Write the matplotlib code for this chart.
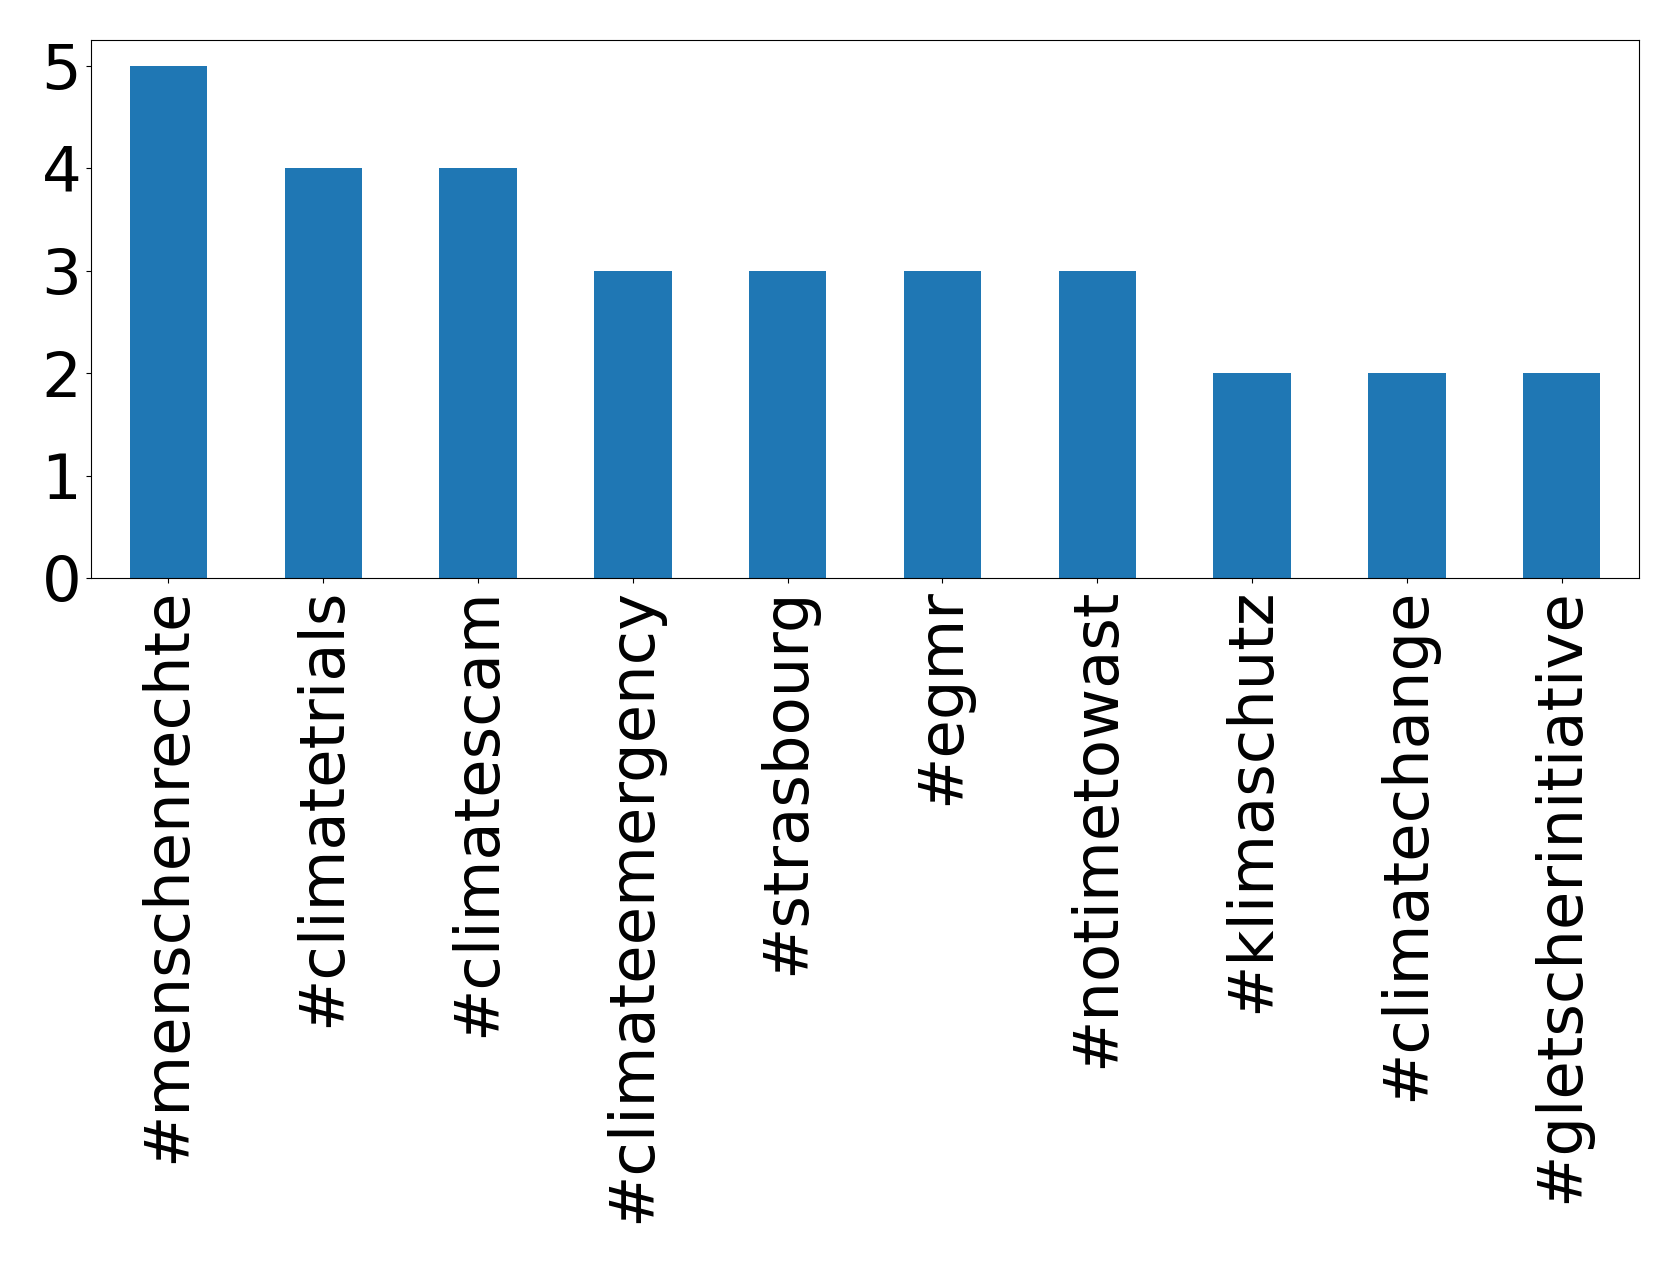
import matplotlib
matplotlib.use("Agg")
import matplotlib.pyplot as plt
import numpy as np

# hashtag counts
hashtags = ["#menschenrechte", "#climatetrials", "#climatescam", "#climateemergency",
            "#strasbourg", "#egmr", "#notimetowast", "#klimaschutz",
            "#climatechange", "#gletscherinitiative"]
counts = [5, 4, 4, 3, 3, 3, 3, 2, 2, 2]

fig = plt.figure(figsize=(16.79, 12.63), dpi=100)
ax = fig.add_axes([91 / 1679, 1 - 578 / 1263, (1639 - 91) / 1679, (578 - 40) / 1263])

x = np.arange(len(hashtags))
ax.bar(x, counts, width=0.5, color="#1f77b4")
ax.set_xlim(-0.5, len(hashtags) - 0.5)
ax.set_ylim(0, max(counts) * 1.05)
ax.set_yticks(range(0, max(counts) + 1))
ax.set_xticks(x)
ax.set_xticklabels(hashtags, rotation=90)
ax.tick_params(axis="both", labelsize=45)

fig.savefig("out.png", dpi=100)
